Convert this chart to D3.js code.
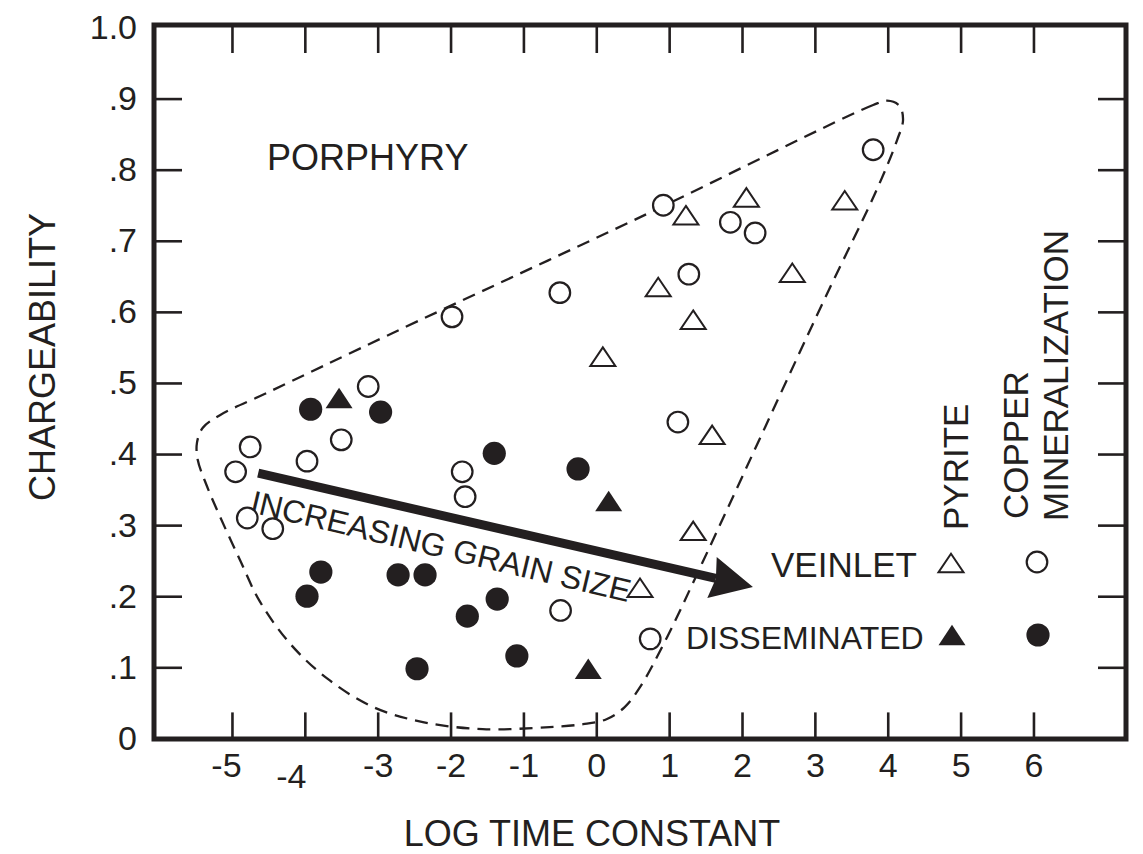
<!DOCTYPE html>
<html>
<head>
<meta charset="utf-8">
<script src="https://cdn.jsdelivr.net/npm/d3@7"></script>
<style>
  body { margin: 0; background: #fff; }
  text { font-family: "Liberation Sans", Arial, Helvetica, sans-serif; fill: #231f20; }
</style>
</head>
<body>
<div id="chart"></div>
<script>
// samples as [log time constant, chargeability]
var veinletCopper = [
  [-4.75, 0.41], [-4.95, 0.375], [-3.97, 0.39], [-3.50, 0.42], [-3.13, 0.495],
  [-4.79, 0.31], [-4.44, 0.295], [-1.98, 0.593], [-1.84, 0.375], [-1.80, 0.34],
  [-0.50, 0.627], [0.92, 0.75], [1.27, 0.653], [1.84, 0.726], [2.18, 0.711],
  [3.80, 0.828], [1.12, 0.445], [-0.49, 0.18], [0.74, 0.14]
];
var veinletPyrite = [
  [1.23, 0.736], [2.06, 0.761], [0.85, 0.635], [3.41, 0.757], [2.69, 0.655],
  [1.33, 0.589], [0.09, 0.537], [1.59, 0.427], [1.33, 0.292], [0.60, 0.212]
];
var dissCopper = [
  [-3.92, 0.463], [-2.96, 0.459], [-1.40, 0.401], [-3.78, 0.234], [-3.97, 0.200],
  [-2.72, 0.230], [-2.35, 0.230], [-1.36, 0.196], [-1.77, 0.172], [-2.46, 0.098],
  [-1.09, 0.116], [-0.25, 0.379]
];
var dissPyrite = [
  [-3.53, 0.479], [0.17, 0.334], [-0.11, 0.098]
];

// dashed outline of the porphyry field
var envelope = [
  [3.99, 0.897], [3.80, 0.891], [0.64, 0.735], [-2.80, 0.570], [-4.52, 0.486],
  [-5.16, 0.455], [-5.40, 0.437], [-5.48, 0.416], [-5.47, 0.392], [-5.34, 0.354],
  [-5.16, 0.311], [-4.89, 0.251], [-4.62, 0.193], [-4.20, 0.133], [-3.69, 0.084],
  [-3.06, 0.044], [-2.38, 0.023], [-1.56, 0.013], [-0.64, 0.016], [-0.18, 0.020],
  [0.14, 0.027], [0.39, 0.044], [0.60, 0.072], [0.97, 0.142], [1.46, 0.248],
  [3.11, 0.613], [3.85, 0.772], [4.13, 0.842], [4.21, 0.870], [4.16, 0.890]
];

var arrowFrom = [-4.64, 0.373];
var arrowTo = [2.15, 0.213];

var xTicks = [-5, -4, -3, -2, -1, 0, 1, 2, 3, 4, 5, 6];
var yTicks = [0, 0.1, 0.2, 0.3, 0.4, 0.5, 0.6, 0.7, 0.8, 0.9, 1.0];
var yTickLabels = ["0", ".1", ".2", ".3", ".4", ".5", ".6", ".7", ".8", ".9", "1.0"];

var w = 1143, h = 854;
var ink = "#231f20";
var x = d3.scaleLinear().domain([-6.07, 7.27]).range([154, 1126]);
var y = d3.scaleLinear().domain([0, 1]).range([738.4, 27.5]);
var top_ = 25;

var svg = d3.select("#chart").append("svg")
  .attr("width", w)
  .attr("height", h);

//dashed envelope
var envLine = d3.line()
  .x(d => x(d[0]))
  .y(d => y(d[1]))
  .curve(d3.curveCatmullRomClosed.alpha(0.5));

svg.append("path")
  .attr("d", envLine(envelope))
  .attr("fill", "none")
  .attr("stroke", ink)
  .attr("stroke-width", 2.3)
  .attr("stroke-dasharray", "13,8");

//axes, ticks point inward on all four sides
function styleAxis(g) {
  g.select(".domain").remove();
  g.attr("font-family", null);
  g.selectAll(".tick line").attr("stroke", ink).attr("stroke-width", 2.6);
  g.selectAll(".tick text").attr("fill", ink).style("font-size", "34px");
}

var left = svg.append("g")
  .attr("transform", "translate(" + x.range()[0] + ",0)")
  .call(d3.axisLeft(y).tickValues(yTicks).tickSize(-28).tickPadding(17)
    .tickFormat((d, i) => yTickLabels[i]))
  .call(styleAxis);
left.selectAll(".tick line").filter(d => d === 0 || d === 1).remove();

var right = svg.append("g")
  .attr("transform", "translate(" + x.range()[1] + ",0)")
  .call(d3.axisRight(y).tickValues(yTicks.slice(1, -1)).tickSize(-28).tickFormat(""))
  .call(styleAxis);

var bottom = svg.append("g")
  .attr("transform", "translate(0," + y(0) + ")")
  .call(d3.axisBottom(x).tickValues(xTicks).tickSize(-26).tickPadding(14)
    .tickFormat(d => String(d)))
  .call(styleAxis);
// the hand lettered -5 and -4 sit a bit off their ticks
bottom.selectAll(".tick text")
  .attr("dx", d => d === -5 ? -6 : d === -4 ? -14 : 0)
  .attr("transform", d => d === -4 ? "translate(0,11)" : null);

var topAx = svg.append("g")
  .attr("transform", "translate(0," + top_ + ")")
  .call(d3.axisTop(x).tickValues(xTicks).tickSize(-28).tickFormat(""))
  .call(styleAxis);

//frame
svg.append("rect")
  .attr("x", x.range()[0])
  .attr("y", top_)
  .attr("width", x.range()[1] - x.range()[0])
  .attr("height", y(0) - top_ + 0.6)
  .attr("fill", "none")
  .attr("stroke", ink)
  .attr("stroke-width", 5);

//axis titles
svg.append("text")
  .attr("transform", "translate(55,357) rotate(-90)")
  .attr("text-anchor", "middle")
  .attr("font-size", 36)
  .text("CHARGEABILITY");

svg.append("text")
  .attr("x", 592)
  .attr("y", 846)
  .attr("text-anchor", "middle")
  .attr("font-size", 36)
  .text("LOG TIME CONSTANT");

svg.append("text")
  .attr("x", 267)
  .attr("y", 170)
  .attr("font-size", 36)
  .text("PORPHYRY");

//grain size arrow
var ax0 = x(arrowFrom[0]), ay0 = y(arrowFrom[1]);
var ax1 = x(arrowTo[0]), ay1 = y(arrowTo[1]);
var ang = Math.atan2(ay1 - ay0, ax1 - ax0);
var headLen = 42, headHalf = 21;

svg.append("line")
  .attr("x1", ax0).attr("y1", ay0)
  .attr("x2", ax1 - (headLen - 4) * Math.cos(ang))
  .attr("y2", ay1 - (headLen - 4) * Math.sin(ang))
  .attr("stroke", ink)
  .attr("stroke-width", 9);

svg.append("path")
  .attr("transform", "translate(" + ax1 + "," + ay1 + ") rotate(" + (ang * 180 / Math.PI) + ")")
  .attr("d", "M0,0L" + (-headLen) + "," + (-headHalf) + "L" + (-headLen + 4) + ",0L" + (-headLen) + "," + headHalf + "Z")
  .attr("fill", ink);

svg.append("text")
  .attr("transform", "translate(" + x(-4.767) + "," + y(0.3185) + ") rotate(13.4)")
  .attr("font-size", 32)
  .text("INCREASING GRAIN SIZE");

//markers
function tri(wd, ht) {
  return "M0," + (-ht / 2) + "L" + (wd / 2) + "," + (ht / 2) + "L" + (-wd / 2) + "," + (ht / 2) + "Z";
}

svg.append("g").selectAll("circle")
  .data(veinletCopper)
  .enter()
  .append("circle")
  .attr("cx", d => x(d[0]))
  .attr("cy", d => y(d[1]))
  .attr("r", 10.3)
  .attr("fill", "#fff")
  .attr("stroke", ink)
  .attr("stroke-width", 2.2);

svg.append("g").selectAll("circle")
  .data(dissCopper)
  .enter()
  .append("circle")
  .attr("cx", d => x(d[0]))
  .attr("cy", d => y(d[1]))
  .attr("r", 11.6)
  .attr("fill", ink);

svg.append("g").selectAll("path")
  .data(veinletPyrite)
  .enter()
  .append("path")
  .attr("transform", d => "translate(" + x(d[0]) + "," + y(d[1]) + ")")
  .attr("d", tri(25, 18.5))
  .attr("fill", "#fff")
  .attr("stroke", ink)
  .attr("stroke-width", 2)
  .attr("stroke-linejoin", "miter");

svg.append("g").selectAll("path")
  .data(dissPyrite)
  .enter()
  .append("path")
  .attr("transform", d => "translate(" + x(d[0]) + "," + y(d[1]) + ")")
  .attr("d", tri(27, 20.5))
  .attr("fill", ink);

//legend
svg.append("text")
  .attr("transform", "translate(968,530) rotate(-90)")
  .attr("font-size", 35)
  .text("PYRITE");
svg.append("text")
  .attr("transform", "translate(1028,519) rotate(-90)")
  .attr("font-size", 35)
  .text("COPPER");
svg.append("text")
  .attr("transform", "translate(1068,521) rotate(-90)")
  .attr("font-size", 35)
  .text("MINERALIZATION");

svg.append("text")
  .attr("x", 771).attr("y", 577)
  .attr("font-size", 35)
  .text("VEINLET");
svg.append("text")
  .attr("x", 686).attr("y", 649)
  .attr("font-size", 32)
  .text("DISSEMINATED");

svg.append("path")
  .attr("transform", "translate(951,563)")
  .attr("d", tri(25, 18.5))
  .attr("fill", "#fff").attr("stroke", ink).attr("stroke-width", 2);
svg.append("circle")
  .attr("cx", 1037).attr("cy", 562).attr("r", 10.3)
  .attr("fill", "#fff").attr("stroke", ink).attr("stroke-width", 2.2);
svg.append("path")
  .attr("transform", "translate(952,635)")
  .attr("d", tri(27, 20.5))
  .attr("fill", ink);
svg.append("circle")
  .attr("cx", 1038).attr("cy", 635).attr("r", 11.6)
  .attr("fill", ink);
</script>
</body>
</html>
